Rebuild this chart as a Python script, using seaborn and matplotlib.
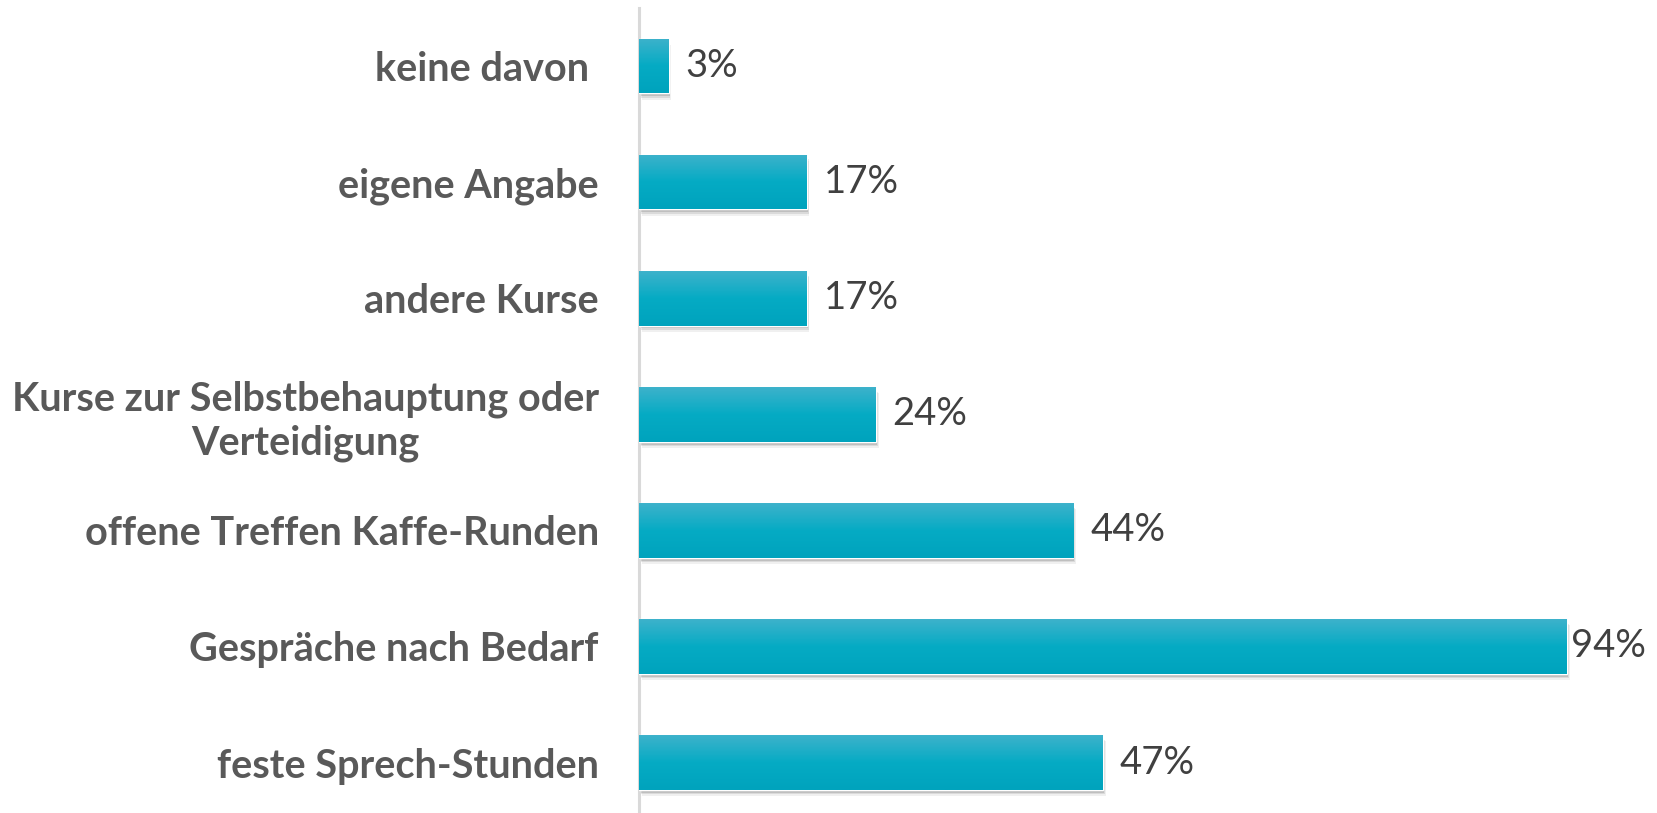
import numpy as np
import pandas as pd
from matplotlib import pyplot as plt
from matplotlib.patches import Rectangle
from matplotlib.colors import LinearSegmentedColormap
import seaborn as sns

############### Data ######################
categories = ['keine davon ', 'eigene Angabe', 'andere Kurse',
              'Kurse zur Selbstbehauptung oder\nVerteidigung',
              'offene Treffen Kaffe-Runden', 'Gespräche nach Bedarf',
              'feste Sprech-Stunden']
percent = [3, 17, 17, 24, 44, 94, 47]

df = pd.DataFrame({'Angebot': categories, 'Anteil': percent})

############### Plotting #############################
sns.set_style("white")
plt.rcParams['font.family'] = ['Lato', 'DejaVu Sans']

fig = plt.figure(figsize=(16.57, 8.13), dpi=100)
ax = fig.add_axes([0.3857, -0.005, 0.5957, 0.995])

barColor = '#0aa9c3'
sns.barplot(x='Anteil', y='Angebot', data=df, color=barColor, width=0.47,
            saturation=1, ax=ax, zorder=3)

# gradient fill + soft shadow on each bar
grad = LinearSegmentedColormap.from_list('g', ['#3db2cb', '#05abc4', '#00a3bd'])
for p in ax.patches:
    x0, y0 = p.get_x(), p.get_y()
    w, h = p.get_width(), p.get_height()
    for k, a in enumerate([0.12, 0.09, 0.06]):
        ax.add_patch(Rectangle((x0 + 0.1 + 0.08 * k, y0 + 0.025 + k * 0.014), w, h,
                               color='black', alpha=a, lw=0, zorder=2))
    im = ax.imshow(np.linspace(0, 1, 50).reshape(-1, 1), cmap=grad, aspect='auto',
                   extent=(x0, x0 + w, y0 + h, y0), zorder=3.5)
    im.set_clip_path(p)

ax.set_xlim(0, 100)
ax.set_ylim(6.47, -0.5)

for c in ax.containers:
    anns = ax.bar_label(c, labels=[f'{v}%' for v in percent], padding=12,
                        fontsize=27.5, color='#404040')
    # the longest bar's label sits tight against the bar (runs out of room)
    anns[int(np.argmax(percent))].xyann = (3, 0)

sns.despine(ax=ax, left=False, bottom=True)
ax.spines['left'].set_color('#d9d9d9')
ax.spines['left'].set_linewidth(2.2)
ax.set_xticks([])
ax.set_xlabel('')
ax.set_ylabel('')
ax.tick_params(axis='y', length=0, pad=29)
for t in ax.get_yticklabels():
    t.set_fontsize(28.5)
    t.set_fontweight('bold')
    t.set_color('#595959')
    t.set_horizontalalignment('right')
    t.set_multialignment('center')
    t.set_linespacing(1.2)

fig.savefig('out.png', dpi=100)
